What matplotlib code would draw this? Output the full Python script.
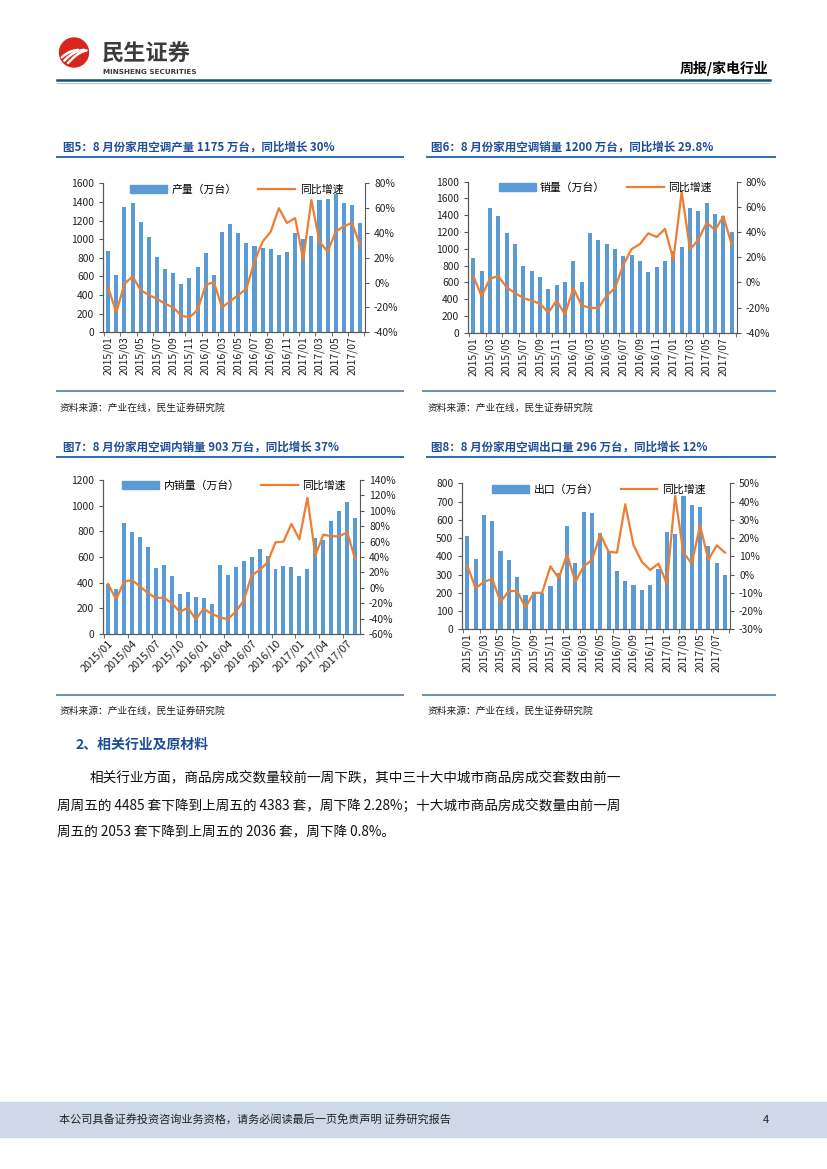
import matplotlib.pyplot as plt
import numpy as np
from matplotlib.patches import Rectangle, Circle, Patch
from matplotlib.lines import Line2D
from matplotlib.ticker import FuncFormatter

plt.rcParams['font.family'] = ['Noto Sans CJK SC', 'DejaVu Sans']

W, H = 827, 1169
BLUE = '#5B9BD5'
ORANGE = '#ED7D31'
TITLE_C = '#1F4E99'
AX_C = '#595959'

months = ['2015/01', '2015/02', '2015/03', '2015/04', '2015/05', '2015/06',
          '2015/07', '2015/08', '2015/09', '2015/10', '2015/11', '2015/12',
          '2016/01', '2016/02', '2016/03', '2016/04', '2016/05', '2016/06',
          '2016/07', '2016/08', '2016/09', '2016/10', '2016/11', '2016/12',
          '2017/01', '2017/02', '2017/03', '2017/04', '2017/05', '2017/06',
          '2017/07', '2017/08']

# 产量（万台）
prod = [875, 620, 1345, 1390, 1185, 1025, 805, 680, 635, 520, 580, 700,
        855, 620, 1075, 1165, 1065, 960, 930, 900, 895, 830, 860, 1070,
        1000, 1030, 1425, 1430, 1490, 1390, 1370, 1175]
prod_yoy = [-4, -24, -1, 5, -6, -10, -13, -17, -20, -26.5, -28, -22,
            -2, 0.5, -20, -15, -10, -5, 17, 33, 41, 60, 48, 52,
            18.5, 66.5, 33, 25, 41, 45.5, 48, 30]

# 销量（万台）
sales = [890, 735, 1490, 1395, 1190, 1055, 800, 730, 660, 520, 570, 600,
         850, 600, 1185, 1100, 1055, 1000, 915, 925, 860, 720, 780, 855,
         970, 1025, 1485, 1455, 1550, 1410, 1390, 1200]
sales_yoy = [5, -11, 3, 5, -4, -8.5, -12.5, -14.5, -17, -24, -14.5, -25.5,
             -4.5, -18.5, -20, -20.5, -10.5, -4.5, 14, 26.5, 30.5, 39, 36, 42.5,
             18, 72, 26, 34, 47.5, 41.5, 52.5, 30]

# 内销量（万台）
dom = [390, 350, 865, 795, 755, 675, 515, 535, 450, 315, 330, 285,
       280, 235, 540, 460, 525, 570, 600, 660, 610, 505, 530, 520,
       455, 505, 750, 730, 880, 955, 1030, 903]
dom_yoy = [5, -15, 8, 10, 2, -7, -13, -13, -20, -31, -26, -41,
           -27, -34, -38, -41, -31, -17, 16, 23, 33, 59, 60, 83,
           63, 117, 42, 69, 67, 67, 72, 37]

# 出口（万台）
exp_ = [510, 385, 625, 595, 430, 380, 285, 190, 205, 200, 240, 310,
        565, 365, 645, 640, 525, 430, 320, 265, 245, 215, 245, 330,
        535, 520, 730, 680, 670, 455, 365, 296]
exp_yoy = [5, -7.5, -4, -2.5, -15, -9, -9, -18, -10, -10, 4.5, -2,
           11, -4, 4.5, 8, 22, 12.5, 12, 38.5, 16, 7, 2.5, 6,
           -5, 43, 12, 6, 27, 8, 16, 12]

fig = plt.figure(figsize=(W / 100, H / 100), dpi=100)

# page decorations drawn in pixel coordinates
bg = fig.add_axes([0, 0, 1, 1])
bg.set_xlim(0, W)
bg.set_ylim(H, 0)
bg.axis('off')

# logo
bg.add_patch(Circle((74, 52.5), 14.5, color='#D7261E'))
for dx in (-6, 0, 6):
    xs = np.linspace(62 + dx, 84 + dx, 20)
    ys = 63 - (xs - 62 - dx) * 0.6 - 3 * np.sin((xs - 62 - dx) / 22 * np.pi)
    keep = (xs - 74) ** 2 + (ys - 52.5) ** 2 < 13.5 ** 2
    bg.plot(xs[keep], ys[keep], color='white', lw=1.8, solid_capstyle='round')
bg.text(102, 54, '民生证券', fontsize=16, fontweight='bold', color='#3C3C3C', va='center')
bg.text(103, 72, 'MINSHENG SECURITIES', fontsize=5.2, fontweight='bold', color='#3C3C3C', va='center',
        family='DejaVu Sans')
bg.text(768, 69, '周报/家电行业', fontsize=10, fontweight='bold', ha='right', va='center')
bg.plot([57, 770], [80, 80], color='#1F4E79', lw=1.8)
bg.plot([57, 770], [82.5, 82.5], color='#A9C8E8', lw=0.8)

# figure titles
titles = ['图5：8 月份家用空调产量 1175 万台，同比增长 30%',
          '图6：8 月份家用空调销量 1200 万台，同比增长 29.8%',
          '图7：8 月份家用空调内销量 903 万台，同比增长 37%',
          '图8：8 月份家用空调出口量 296 万台，同比增长 12%']
for i, t in enumerate(titles):
    x0 = 63 if i % 2 == 0 else 431
    y0 = 147 if i < 2 else 447
    bg.text(x0, y0, t, fontsize=8.3, fontweight='bold', color=TITLE_C, va='center')
    xl = (57, 403) if i % 2 == 0 else (427, 775)
    bg.plot(xl, [y0 + 10, y0 + 10], color='#2E6DB4', lw=1.4)
    yb = 390.5 if i < 2 else 695
    bg.plot(xl if i % 2 == 0 else (423, 775), [yb, yb], color='#6A8DB8', lw=1.4)
    ys = 408 if i < 2 else 711
    bg.text(x0 - 3, ys, '资料来源：产业在线，民生证券研究院', fontsize=7, color='#222222', va='center')

# section text
bg.text(75, 745, '2、相关行业及原材料', fontsize=10, fontweight='bold', color=TITLE_C, va='center')
body = [(90, 777, '相关行业方面，商品房成交数量较前一周下跌，其中三十大中城市商品房成交套数由前一'),
        (57, 805, '周周五的 4485 套下降到上周五的 4383 套，周下降 2.28%；十大城市商品房成交数量由前一周'),
        (57, 832, '周五的 2053 套下降到上周五的 2036 套，周下降 0.8%。')]
for x0, y0, t in body:
    bg.text(x0, y0, t, fontsize=9.8, color='#111111', va='center')

# footer
bg.add_patch(Rectangle((0, 1102), W, 35, color='#CDD9E6', zorder=0))
bg.text(59, 1120, '本公司具备证券投资咨询业务资格，请务必阅读最后一页免责声明 证券研究报告',
        fontsize=8, color='#222222', va='center')
bg.text(763, 1120, '4', fontsize=8, color='#222222', va='center')


def pct(v, _):
    return '%d%%' % round(v)


def chart(box, vals, yoy, label, ymax, ystep, rlo, rhi, rstep, step, rot):
    l, r, t, b = box
    ax = fig.add_axes([l / W, 1 - b / H, (r - l) / W, (b - t) / H])
    x = np.arange(len(months))
    ax.bar(x, vals, width=0.5, color=BLUE, zorder=2)
    ax.set_xlim(-0.6, len(months) - 0.4)
    ax.set_ylim(0, ymax)
    ax.set_yticks(np.arange(0, ymax + 1, ystep))
    ax.set_xticks(x[::step])
    if rot == 90:
        ax.set_xticklabels(months[::step], rotation=90, fontsize=7.5)
    else:
        ax.set_xticklabels(months[::step], rotation=45, ha='right',
                           rotation_mode='anchor', fontsize=7.8)
    ax.set_xticks(np.arange(-0.5, len(months), step), minor=True)
    ax.tick_params(axis='x', which='major', length=0, pad=3, colors='#222222')
    ax.tick_params(axis='x', which='minor', length=3, color=AX_C)
    ax.tick_params(axis='y', labelsize=7.4, length=3, colors='#222222', color=AX_C)

    ax2 = ax.twinx()
    ax2.plot(x, yoy, color=ORANGE, lw=1.6, zorder=3)
    ax2.set_ylim(rlo, rhi)
    ax2.set_yticks(np.arange(rlo, rhi + 1, rstep))
    ax2.yaxis.set_major_formatter(FuncFormatter(pct))
    ax2.tick_params(axis='y', labelsize=7.4, length=3, colors='#222222', color=AX_C)

    for a in (ax, ax2):
        a.spines['top'].set_visible(False)
        for s in ('left', 'right', 'bottom'):
            a.spines[s].set_color(AX_C)
            a.spines[s].set_linewidth(0.8)
        a.set_facecolor('none')
    ax.spines['right'].set_visible(False)

    handles = [Patch(color=BLUE), Line2D([], [], color=ORANGE, lw=1.6)]
    ax2.legend(handles, [label, '同比增速'], loc='upper center', bbox_to_anchor=(0.51, 1.06),
               ncol=2, frameon=False, fontsize=7.8, handlelength=3.4, handleheight=0.8,
               columnspacing=2.0, handletextpad=0.4)
    return ax


chart((103.3, 365, 183.3, 332.3), prod, prod_yoy, '产量（万台）', 1600, 200, -40, 80, 20, 2, 90)
chart((468.3, 736.7, 181.7, 332.7), sales, sales_yoy, '销量（万台）', 1800, 200, -40, 80, 20, 2, 90)
chart((103.3, 360, 480, 634), dom, dom_yoy, '内销量（万台）', 1200, 200, -60, 140, 20, 3, 45)
chart((462.3, 730, 483.3, 629.3), exp_, exp_yoy, '出口（万台）', 800, 100, -30, 50, 10, 2, 90)

fig.savefig('out.png', dpi=100)
